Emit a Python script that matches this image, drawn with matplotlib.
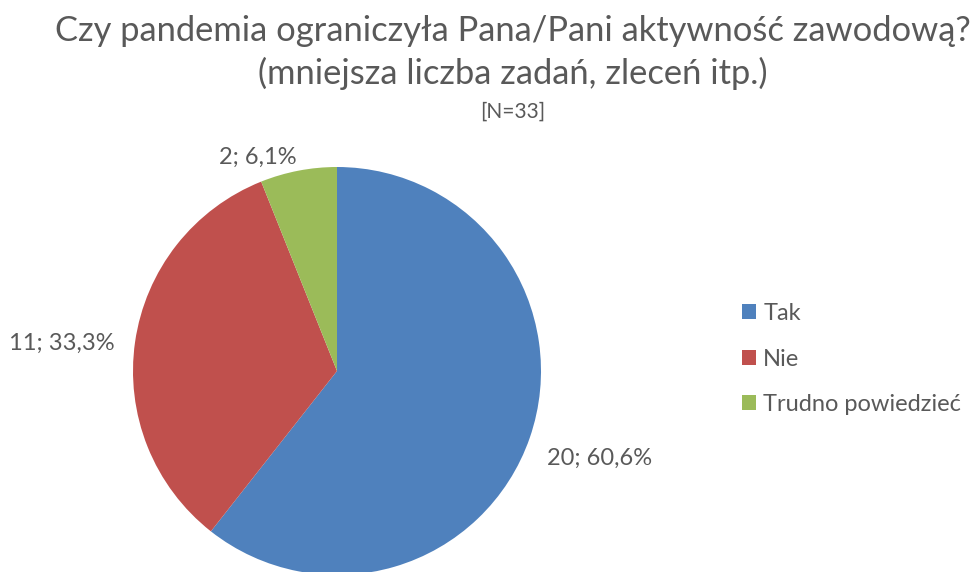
import matplotlib
matplotlib.use("Agg")
import matplotlib.pyplot as plt

categories = ["Tak", "Nie", "Trudno powiedzieć"]
counts = [20, 11, 2]
percents = [60.6, 33.3, 6.1]
colors = ["#4F81BD", "#C0504D", "#9BBB59"]
title_line1 = "Czy pandemia ograniczyła Pana/Pani aktywność zawodową?"
title_line2 = "(mniejsza liczba zadań, zleceń itp.)"
subtitle = "[N=33]"

W, H = 972, 572
fig = plt.figure(figsize=(W / 100, H / 100), dpi=100)
plt.rcParams["font.family"] = ["Lato", "DejaVu Sans"]
text_color = "#595959"

def fx(px):
    return px / W

def fy(py):
    return 1 - py / H

# pie axes: centre (337, 371) px, radius 204 px
cx, cy, r = 337, 371, 204
ax = fig.add_axes([fx(cx - r), fy(cy + r), 2 * r / W, 2 * r / H])
wedges, _ = ax.pie(counts, colors=colors, startangle=90, counterclock=False,
                   radius=1, center=(0, 0), frame=False)
ax.set_xlim(-1, 1)
ax.set_ylim(-1, 1)
ax.axis("off")
for w in wedges:
    w.set_clip_on(False)
    w.set_edgecolor("none")

# data labels
label_pos = [(600, 458), (62, 343), (258, 157)]
for (px, py), n, p in zip(label_pos, counts, percents):
    fig.text(fx(px), fy(py), f"{n}; {p:.1f}".replace(".", ",") + "%",
             ha="center", va="center", fontsize=17, color=text_color)

# titles
fig.text(fx(513), fy(31), title_line1, ha="center", va="center",
         fontsize=24.8, color=text_color)
fig.text(fx(513), fy(73), title_line2, ha="center", va="center",
         fontsize=24.8, color=text_color)
fig.text(fx(513), fy(112), subtitle, ha="center", va="center",
         fontsize=15, color=text_color)

leg = fig.legend(wedges, categories, loc="center left",
                 bbox_to_anchor=(fx(742), fy(359)), frameon=False,
                 fontsize=17, labelcolor=text_color, handlelength=0.6,
                 handleheight=0.6, handletextpad=0.3, labelspacing=1.05,
                 borderaxespad=0, borderpad=0)

fig.savefig("out.png", dpi=100, facecolor="white")
